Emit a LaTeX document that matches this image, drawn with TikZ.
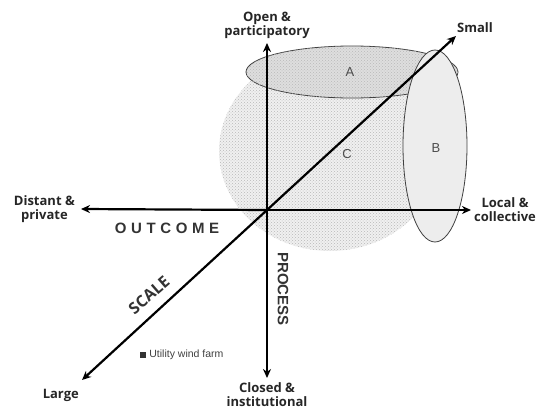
\documentclass[tikz,border=0pt]{standalone}
\usepackage{fontspec}
\setmainfont{Open Sans}
\newfontfamily\arialfont{Liberation Sans}
\usetikzlibrary{arrows.meta,positioning,patterns}

\newcommand{\spaced}[1]{\def\spacedsep{}\spacedloop#1\relax}
\def\spacedloop#1{\ifx#1\relax\else\spacedsep#1\def\spacedsep{\hspace{4.6pt}}\expandafter\spacedloop\fi}

\begin{document}
\begin{tikzpicture}[x=1pt,y=-1pt,node distance=4pt,
                    axis/.style={line width=2.2pt,-{Stealth[length=9pt,width=8pt]}},
                    zone/.style={draw=black!75,line width=0.8pt},
                    stipple/.style={pattern=crosshatch dots,pattern color=gray!55},
                    pole/.style={font=\fontsize{13}{14}\selectfont\bfseries,align=center,text=black!85,inner sep=1pt},
                    dimlabel/.style={font=\arialfont\fontsize{15}{15}\selectfont\bfseries,text=black!80,inner sep=0pt},
                    region/.style={font=\arialfont\fontsize{13}{13}\selectfont,text=black!70}]
  \useasboundingbox (0,0) rectangle (536,410);

  % the three zones
  \fill[gray!12] (330,151) ellipse [x radius=111pt, y radius=100pt];
  \fill[stipple] (330,151) ellipse [x radius=111pt, y radius=100pt];
  \filldraw[zone,fill=gray!26] (352,72) ellipse [x radius=106pt, y radius=26pt];
  \fill[stipple] (352,72) ellipse [x radius=106pt, y radius=26pt];
  \filldraw[zone,fill=gray!14] (435,146) ellipse [x radius=32pt, y radius=96pt];
  \node[region] (a) at (350,72)  {A};
  \node[region] (b) at (436,148) {B};
  \node[region] (c) at (347,154) {C};

  % axes
  \coordinate (o)     at (267,210);
  \coordinate (open)  at (267,43);
  \coordinate (closed) at (267,378);
  \coordinate (dist)  at (81,209);
  \coordinate (local) at (471,210);
  \coordinate (small) at (456,36);
  \coordinate (large) at (82,380);

  \draw[axis] (o) -- (open);
  \draw[axis] (o) -- (closed);
  \draw[axis] (o) -- (dist);
  \draw[axis] (o) -- (local);
  \draw[axis] (o) -- (small);
  \draw[axis] (o) -- (large);

  % pole labels
  \node[pole] (openl)   [above=3pt of open]       {Open \&\\participatory};
  \node[pole] (closedl) [below=3pt of closed]     {Closed \&\\institutional};
  \node[pole] (distl)   [left=5pt of dist]        {Distant \&\\private};
  \node[pole] (locall)  [right=2pt of local]      {Local \&\\collective};
  \node[pole] (smalll)  [above right=2pt and 0pt of small] {Small};
  \node[pole] (largel)  [below left=8pt and 2pt of large]  {Large};

  % dimension names
  \node[dimlabel] (outcome) at (167,228) {\spaced{OUTCOME}};
  \node[dimlabel,rotate=-90] (process) at (283,289) {PROCESS};
  \node[dimlabel,font=\fontsize{16}{16}\selectfont\bfseries,rotate=41] (scale) at (149,295) {SCALE};

  % case
  \node[fill=black!80,minimum size=6pt,inner sep=0pt] (farm) at (143,355) {};
  \node[font=\arialfont\fontsize{10.5}{10.5}\selectfont,text=black!75,right=3pt of farm,inner sep=0pt] (farml) {Utility wind farm};
\end{tikzpicture}
\end{document}
